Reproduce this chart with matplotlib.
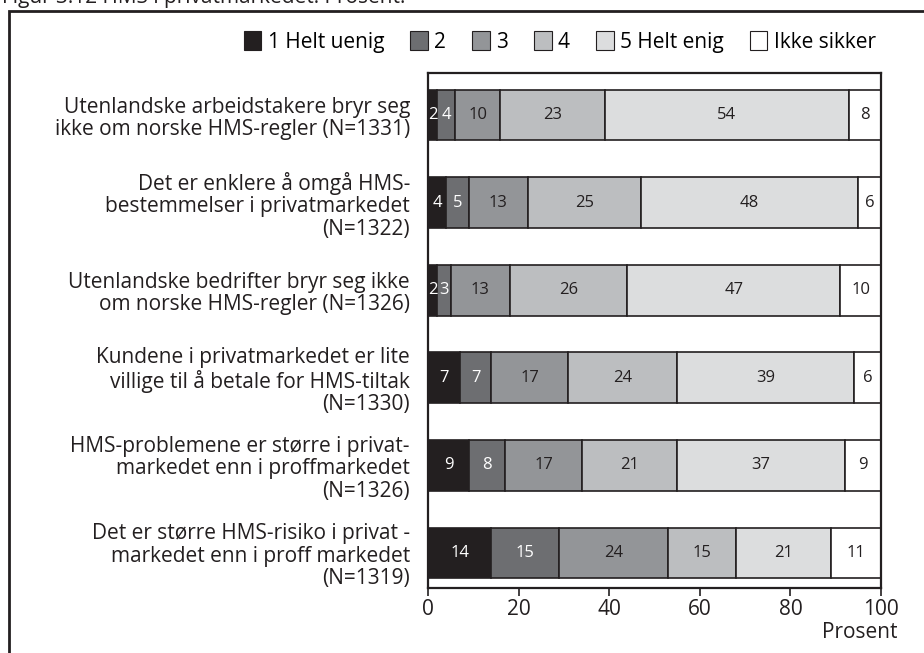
import numpy as np
import matplotlib
matplotlib.use("Agg")
from matplotlib import pyplot as plt
from matplotlib.patches import Rectangle

plt.rcParams['font.family'] = ['Open Sans', 'DejaVu Sans']

# statements (top to bottom)
categories = [
    "Utenlandske arbeidstakere bryr seg\nikke om norske HMS-regler (N=1331)",
    "Det er enklere å omgå HMS-\nbestemmelser i privatmarkedet\n(N=1322)",
    "Utenlandske bedrifter bryr seg ikke\nom norske HMS-regler (N=1326)",
    "Kundene i privatmarkedet er lite\nvillige til å betale for HMS-tiltak\n(N=1330)",
    "HMS-problemene er større i privat-\nmarkedet enn i proffmarkedet\n(N=1326)",
    "Det er større HMS-risiko i privat -\nmarkedet enn i proff markedet\n(N=1319)",
]
series_names = ["1 Helt uenig", "2", "3", "4", "5 Helt enig", "Ikke sikker"]
helt_uenig = [2, 4, 2, 7, 9, 14]
s2 = [4, 5, 3, 7, 8, 15]
s3 = [10, 13, 13, 17, 17, 24]
s4 = [23, 25, 26, 24, 21, 15]
helt_enig = [54, 48, 47, 39, 37, 21]
ikke_sikker = [8, 6, 10, 6, 9, 11]
xticks = [0, 20, 40, 60, 80, 100]

series = [helt_uenig, s2, s3, s4, helt_enig, ikke_sikker]
colors = ['#231f20', '#6d6e71', '#939598', '#bcbec0', '#dcddde', '#ffffff']
text_colors = ['white', 'white', '#231f20', '#231f20', '#231f20', '#231f20']

fig = plt.figure(figsize=(9.24, 6.53), dpi=100)
ax = fig.add_axes([428/924, 1-588/653, 453/924, (588-73)/653])

y = np.arange(len(categories))
left = np.zeros(len(categories))
for vals, name, c, tc in zip(series, series_names, colors, text_colors):
    vals = np.array(vals, dtype=float)
    ax.barh(y, vals, left=left, height=0.58, color=c, edgecolor='#231f20',
            linewidth=1.2, label=name)
    for yi, v, l in zip(y, vals, left):
        # last segment runs past 100 in some rows, so centre inside the axes
        cx = min(l + v / 2, (l + 100) / 2)
        ax.text(cx, yi, f"{int(v)}", ha='center', va='center', fontsize=12,
                color=tc)
    left += vals

ax.set_xlim(0, 100)
ax.set_ylim(5.4, -0.48)
ax.set_yticks(y)
ax.set_yticklabels(categories, fontsize=15, color='#231f20', linespacing=1.1)
for t in ax.get_yticklabels():
    t.set_y(t.get_position()[1])
ax.tick_params(axis='y', length=0, pad=13)
ax.set_xticks(xticks)
ax.tick_params(axis='x', labelsize=15, length=6, width=1.2, direction='out',
               colors='#231f20', pad=2)
for sp in ax.spines.values():
    sp.set_linewidth(1.6)
    sp.set_color('#231f20')

fig.text(897/924, 1-633/653, "Prosent", ha='right', va='center', fontsize=15,
         color='#231f20')

leg = fig.legend(loc='center right', bbox_to_anchor=(884/924, 1-42/653), ncol=6,
                 frameon=False, fontsize=15, handlelength=0.85, handleheight=1.0,
                 handletextpad=0.3, columnspacing=1.25, borderaxespad=0)
for h in leg.legend_handles:
    h.set_linewidth(0.8)

# outer frame (cut by image edges)
fig.patches.append(Rectangle((9/924, -0.2), 1.0, 1.2 - 11/653, transform=fig.transFigure,
                             fill=False, edgecolor='#231f20', linewidth=2, clip_on=False))
fig.text(2/924, 1-3/653, "Figur 3.12 HMS i privatmarkedet. Prosent.", ha='left',
         va='baseline', fontsize=15, color='#231f20')

fig.savefig("out.png", dpi=100)
